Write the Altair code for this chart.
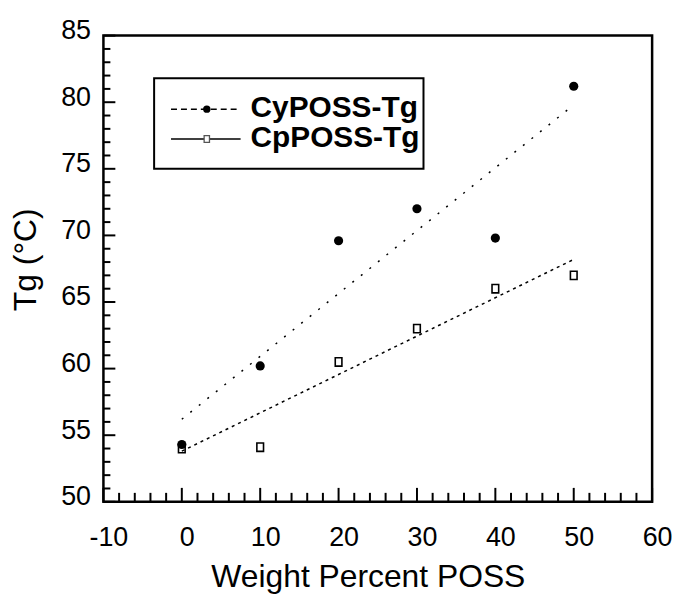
import altair as alt
import pandas as pd

# ---- data ----
weight_pct = [0, 10, 20, 30, 40, 50]
cy_tg = [54.3, 60.2, 69.6, 72.0, 69.8, 81.2]
cp_tg = [54.0, 54.1, 60.5, 63.0, 66.0, 67.0]
series_names = ["CyPOSS-Tg", "CpPOSS-Tg"]

fit_x = [0, 50]
cy_fit = [56.2, 79.8]
cp_fit = [53.8, 68.2]

x_major = [-10, 0, 10, 20, 30, 40, 50, 60]
x_minor = [-8, -6, -4, -2, 2, 4, 6, 8, 12, 14, 16, 18, 22, 24, 26, 28,
           32, 34, 36, 38, 42, 44, 46, 48, 52, 54, 56, 58]
y_major = [50, 55, 60, 65, 70, 75, 80, 85]
y_minor = [51, 52, 53, 54, 56, 57, 58, 59, 61, 62, 63, 64, 66, 67, 68, 69,
           71, 72, 73, 74, 76, 77, 78, 79, 81, 82, 83, 84]

FONT = "Liberation Sans"
W, H = 552, 469

pts = pd.DataFrame({
    "x": weight_pct * 2,
    "y": cy_tg + cp_tg,
    "series": [series_names[0]] * 6 + [series_names[1]] * 6,
})
fits = pd.DataFrame({
    "x": fit_x * 2,
    "y": cy_fit + cp_fit,
    "series": [series_names[0]] * 2 + [series_names[1]] * 2,
})

xscale = alt.Scale(domain=[-10, 60], nice=False, zero=False)
yscale = alt.Scale(domain=[50, 85], nice=False, zero=False)

xaxis = alt.Axis(values=x_major, ticks=False, domain=False, grid=False,
                 labelExpr="'' + datum.value",
                 labelFont=FONT, labelFontSize=27, labelColor="black",
                 labelPadding=23, labelFlush=False, labelOffset=5,
                 title="Weight Percent POSS", titleFont=FONT, titleFontSize=32,
                 titleFontWeight="normal", titleColor="black",
                 titleBaseline="alphabetic", titleY=85, titleX=266)
yaxis = alt.Axis(values=y_major, ticks=False, domain=False, grid=False,
                 labelFont=FONT, labelFontSize=27, labelColor="black",
                 labelPadding=13, labelOffset=-5,
                 title="Tg (°C)", titleFont=FONT, titleFontSize=32,
                 titleFontWeight="normal", titleColor="black",
                 titleAngle=270, titleAlign="center", titleBaseline="alphabetic",
                 titleX=-68, titleY=225)

base_x = alt.X("x:Q", scale=xscale, axis=xaxis)
base_y = alt.Y("y:Q", scale=yscale, axis=yaxis)

cy_line = alt.Chart(fits[fits.series == series_names[0]]).mark_line(
    color="black", strokeWidth=1.5, strokeDash=[2, 9]
).encode(x=base_x, y=base_y)
cp_line = alt.Chart(fits[fits.series == series_names[1]]).mark_line(
    color="black", strokeWidth=1.5, strokeDash=[3, 4]
).encode(x=base_x, y=base_y)

cp_pts = alt.Chart(pts[pts.series == series_names[1]]).mark_point(
    shape="M-0.8,-1H0.8V1H-0.8Z", filled=False, color="black",
    strokeWidth=1.6, size=70, opacity=1
).encode(x=base_x, y=base_y)
cy_pts = alt.Chart(pts[pts.series == series_names[0]]).mark_point(
    shape="circle", filled=True, color="black", size=85, opacity=1
).encode(x=base_x, y=base_y)

# inward axis ticks
xt_major = alt.Chart(pd.DataFrame({"x": x_major})).mark_rule(
    color="black", strokeWidth=2).encode(
    x=alt.X("x:Q", scale=xscale), y=alt.value(H), y2=alt.value(H - 14))
xt_minor = alt.Chart(pd.DataFrame({"x": x_minor})).mark_rule(
    color="black", strokeWidth=2).encode(
    x=alt.X("x:Q", scale=xscale), y=alt.value(H), y2=alt.value(H - 9))
yt_major = alt.Chart(pd.DataFrame({"y": y_major})).mark_rule(
    color="black", strokeWidth=2).encode(
    y=alt.Y("y:Q", scale=yscale), x=alt.value(0), x2=alt.value(12))
yt_minor = alt.Chart(pd.DataFrame({"y": y_minor})).mark_rule(
    color="black", strokeWidth=2).encode(
    y=alt.Y("y:Q", scale=yscale), x=alt.value(0), x2=alt.value(7))

# legend (drawn box)
one = alt.Data(values=[{}])
lg_box = alt.Chart(one).mark_rect(fill="white", stroke="black", strokeWidth=2).encode(
    x=alt.value(51), x2=alt.value(322), y=alt.value(43), y2=alt.value(134))
lg_l1 = alt.Chart(one).mark_rule(color="black", strokeWidth=1.5, strokeDash=[6, 4]).encode(
    x=alt.value(68), x2=alt.value(138), y=alt.value(74))
lg_p1 = alt.Chart(one).mark_point(shape="circle", filled=True, color="black",
                                  size=55, opacity=1).encode(
    x=alt.value(104), y=alt.value(74))
lg_l2 = alt.Chart(one).mark_rule(color="black", strokeWidth=1.5).encode(
    x=alt.value(68), x2=alt.value(138), y=alt.value(104))
lg_p2 = alt.Chart(one).mark_point(shape="M-0.8,-1H0.8V1H-0.8Z", filled=True,
                                  fill="white", stroke="#555", strokeWidth=1.3,
                                  size=45, opacity=1).encode(
    x=alt.value(104), y=alt.value(104))
lg_t1 = alt.Chart(one).mark_text(align="left", baseline="middle", font=FONT,
                                 fontSize=30, fontWeight="bold", color="black").encode(
    x=alt.value(148), y=alt.value(73), text=alt.value(series_names[0]))
lg_t2 = alt.Chart(one).mark_text(align="left", baseline="middle", font=FONT,
                                 fontSize=30, fontWeight="bold", color="black").encode(
    x=alt.value(148), y=alt.value(103), text=alt.value(series_names[1]))

chart = alt.layer(
    cy_line, cp_line, cp_pts, cy_pts,
    xt_major, xt_minor, yt_major, yt_minor,
    lg_box, lg_l1, lg_p1, lg_l2, lg_p2, lg_t1, lg_t2,
).properties(
    width=W, height=H,
    autosize=alt.AutoSizeParams(type="none"),
    padding={"left": 96, "top": 26, "right": 20, "bottom": 96},
    background="white",
).configure_view(stroke="black", strokeWidth=2.5)

chart.save("out.html", embed_options={"renderer": "svg", "actions": False})
